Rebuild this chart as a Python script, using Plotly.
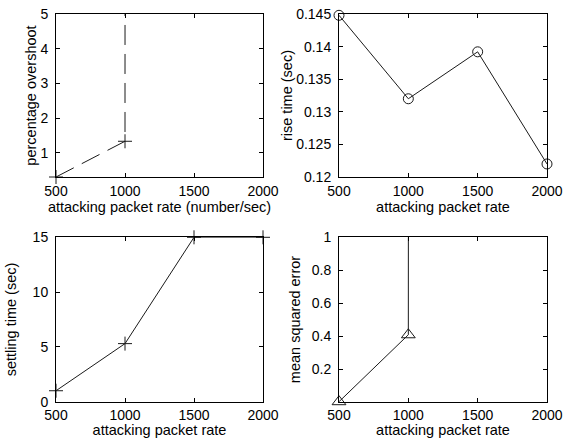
import plotly.graph_objects as go

# ---- data ----
rate = [500, 1000, 1500, 2000]
overshoot = [0.3, 1.33, 1e4, 1e4]          # huge values off-scale (unstable)
rise_time = [0.1448, 0.132, 0.1392, 0.122]
settling_time = [1.0, 5.3, 15.0, 15.0]
mse = [0.005, 0.41, 1e3, 1e3]              # huge values off-scale

x_ticks = [500, 1000, 1500, 2000]
x_ticktext = ["500", "1000", "1500", "2000"]
os_ticks = [1, 2, 3, 4, 5]
os_ticktext = ["1", "2", "3", "4", "5"]
rt_ticks = [0.12, 0.125, 0.13, 0.135, 0.14, 0.145]
rt_ticktext = ["0.12", "0.125", "0.13", "0.135", "0.14", "0.145"]
st_ticks = [0, 5, 10, 15]
st_ticktext = ["0", "5", "10", "15"]
mse_ticks = [0.2, 0.4, 0.6, 0.8, 1.0]
mse_ticktext = ["0.2", "0.4", "0.6", "0.8", "1"]

W, H = 568, 441
FONT = "Liberation Sans, Arial, sans-serif"
LINE = "#1a1a1a"
TICK_SIZE = 14
TITLE_SIZE = 14.5

fig = go.Figure()

fig.add_trace(go.Scatter(x=rate, y=overshoot, xaxis="x", yaxis="y",
                         mode="lines+markers", cliponaxis=False,
                         line=dict(color=LINE, width=1, dash="20px,9px"),
                         marker=dict(symbol="cross-thin-open", size=10,
                                     line=dict(color=LINE, width=1))))
fig.add_trace(go.Scatter(x=rate, y=rise_time, xaxis="x2", yaxis="y2",
                         mode="lines+markers", cliponaxis=False,
                         line=dict(color=LINE, width=1),
                         marker=dict(symbol="circle-open", size=10, color=LINE,
                                     line=dict(color=LINE, width=1))))
fig.add_trace(go.Scatter(x=rate, y=settling_time, xaxis="x3", yaxis="y3",
                         mode="lines+markers", cliponaxis=False,
                         line=dict(color=LINE, width=1),
                         marker=dict(symbol="cross-thin-open", size=10,
                                     line=dict(color=LINE, width=1))))
fig.add_trace(go.Scatter(x=rate, y=mse, xaxis="x4", yaxis="y4",
                         mode="lines+markers", cliponaxis=False,
                         line=dict(color=LINE, width=1),
                         marker=dict(symbol="triangle-up-open", size=12, color=LINE,
                                     line=dict(color=LINE, width=1))))

colL = [56 / W, 263 / W]
colR = [339 / W, 547 / W]
rowT = [(H - 177) / H, (H - 14) / H]
rowB = [(H - 401.7) / H, (H - 237.3) / H]

common_axis = dict(showline=True, linecolor="black", linewidth=1, mirror="ticks",
                   ticks="inside", ticklen=4, tickcolor="black", showgrid=False,
                   zeroline=False, automargin=False,
                   tickfont=dict(family=FONT, size=TICK_SIZE, color="black"),
                   fixedrange=True)
title_font = dict(family=FONT, size=TITLE_SIZE, color="black")


def xax(domain, anchor, title, label_off, title_off):
    return dict(common_axis, domain=domain, anchor=anchor, range=[500, 2000],
                tickvals=x_ticks, ticktext=x_ticktext, ticklabelstandoff=label_off,
                title=dict(text=title, font=title_font, standoff=title_off))


def yax(domain, anchor, rng, tv, tt, title, standoff):
    return dict(common_axis, domain=domain, anchor=anchor, range=rng,
                tickvals=tv, ticktext=tt, ticklabelstandoff=4,
                title=dict(text=title, font=title_font, standoff=standoff))


fig.update_layout(
    width=W, height=H,
    margin=dict(l=0, r=0, t=0, b=0),
    paper_bgcolor="white", plot_bgcolor="white",
    showlegend=False,
    font=dict(family=FONT, size=TICK_SIZE, color="black"),
    xaxis=xax(colL, "y", "attacking packet rate (number/sec)", 1, 2),
    yaxis=yax(rowT, "x", [0.3, 5], os_ticks, os_ticktext, "percentage overshoot", 0),
    xaxis2=xax(colR, "y2", "attacking packet rate", 1, 2),
    yaxis2=yax(rowT, "x2", [0.12, 0.145], rt_ticks, rt_ticktext, "rise time (sec)", 0),
    xaxis3=xax(colL, "y3", "attacking packet rate", 0, 0),
    yaxis3=yax(rowB, "x3", [0, 15], st_ticks, st_ticktext, "settling time (sec)", 12),
    xaxis4=xax(colR, "y4", "attacking packet rate", 0, 0),
    yaxis4=yax(rowB, "x4", [0.005, 1], mse_ticks, mse_ticktext, "mean squared error", 7),
)

fig.write_html("out.html",
               config={"displayModeBar": False},
               post_script="document.body.style.margin='0';"
                           "document.body.style.overflow='hidden';")
